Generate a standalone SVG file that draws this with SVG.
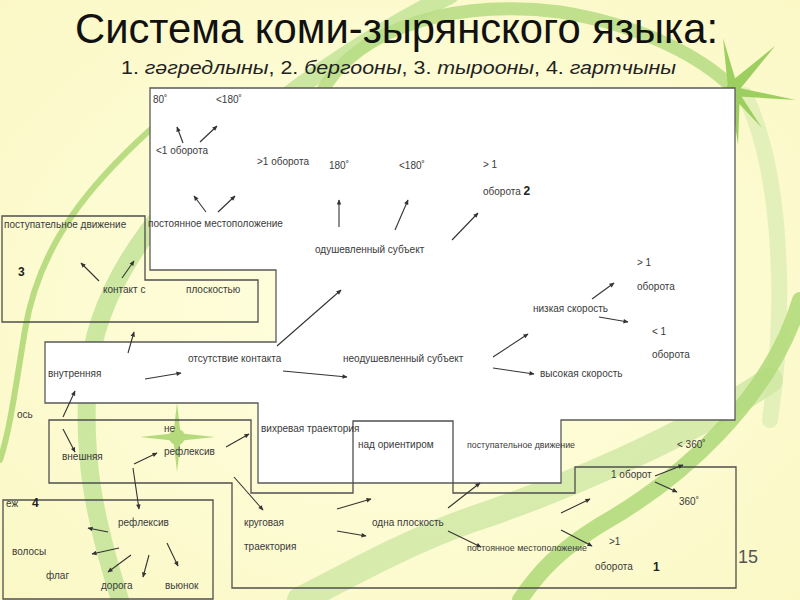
<svg xmlns="http://www.w3.org/2000/svg" width="800" height="600" viewBox="0 0 800 600">
<defs>
<style>
.t{font-family:"Liberation Sans",Arial,sans-serif;font-size:10px;fill:#3a3a3a}
.s{font-family:"Liberation Sans",Arial,sans-serif;font-size:8.5px;fill:#3a3a3a}
.b{font-family:"Liberation Sans",Arial,sans-serif;font-size:12px;font-weight:bold;fill:#222}
.reg{fill:none;stroke:#4f4f4f;stroke-width:1.3}
.c line{stroke:#333;stroke-width:1.1;marker-end:url(#ah)}
.sw{fill:none;stroke-linecap:round}
.ray{fill:#9ccf60}
</style>
<radialGradient id="bg" cx="0.5" cy="0.5" r="0.7">
<stop offset="0" stop-color="#FFFFE0"/>
<stop offset="1" stop-color="#FBF8C6"/>
</radialGradient>
<marker id="ah" viewBox="0 0 10 10" refX="9" refY="5" markerWidth="6" markerHeight="5" markerUnits="userSpaceOnUse" orient="auto">
<path d="M0,0.5 L10,5 L0,9.5 z" fill="#333"/>
</marker>
</defs>

<g id="background">
<rect x="0" y="0" width="800" height="600" fill="url(#bg)"/>
<path class="sw" d="M450,-5 C340,50 100,200 88,380 C82,460 95,520 120,600" stroke="#c3e398" stroke-width="18" opacity="0.85"/>
<path class="sw" d="M150,130 C95,180 40,240 25,330 C15,390 10,430 0,460" stroke="#a9d46e" stroke-width="6" opacity="0.8"/>
<path class="sw" d="M320,95 C360,20 470,0 560,12 C640,25 700,55 735,90" stroke="#b9dd86" stroke-width="13" opacity="0.9"/>
<path class="sw" d="M745,95 C785,180 785,320 770,420" stroke="#d3eaae" stroke-width="16" opacity="0.6"/>
<path class="sw" d="M770,380 C680,440 560,490 470,520 C400,545 340,580 300,600" stroke="#cde7a4" stroke-width="26" opacity="0.8"/>
<path class="sw" d="M800,300 C770,400 680,480 600,525 C560,550 540,570 520,600" stroke="#b2da7c" stroke-width="16" opacity="0.9"/>
<g id="star-top">
<polygon class="ray" points="728,88 723,38 738,88"/>
<polygon class="ray" points="728,84 775,46 736,94"/>
<polygon class="ray" points="730,86 796,100 730,96"/>
<polygon class="ray" points="728,92 762,128 736,88"/>
<polygon class="ray" points="730,90 738,145 740,90"/>
<circle cx="733" cy="90" r="7" fill="#9ccf60"/>
</g>
<g id="star-mid" opacity="0.75">
<polygon class="ray" points="173,437 177,403 181,437"/>
<polygon class="ray" points="173,437 177,472 181,437"/>
<polygon class="ray" points="177,433 140,437 177,441"/>
<polygon class="ray" points="177,433 215,437 177,441"/>
<polygon class="ray" points="174,434 152,412 180,440"/>
<polygon class="ray" points="180,434 202,412 174,440"/>
<polygon class="ray" points="174,440 152,462 180,434"/>
<polygon class="ray" points="180,440 202,462 174,434"/>
<circle cx="177" cy="437" r="8" fill="#9ccf60"/>
</g>
</g>

<g id="title">
<text x="75" y="43" textLength="643" lengthAdjust="spacingAndGlyphs" font-family="'Liberation Sans Narrow','Liberation Sans',Arial,sans-serif" font-size="42" fill="#111">Система коми-зырянского языка:</text>
<text x="121" y="74" textLength="555" lengthAdjust="spacingAndGlyphs" font-family="'Liberation Sans','DejaVu Sans',sans-serif" font-size="18" fill="#222">1. <tspan font-style="italic">гәгредлыны</tspan>, 2. <tspan font-style="italic">бергооны</tspan>, 3. <tspan font-style="italic">тырооны</tspan>, 4. <tspan font-style="italic">гартчыны</tspan></text>
</g>

<g id="regions">
<polygon id="region-2" points="150,88 735,88 735,420 561,420 561,483 258,483 258,403 45,403 45,342 276,342 276,270 150,270" fill="#ffffff" stroke="#5a5a5a" stroke-width="1.3"/>
<polygon id="region-3" class="reg" points="2,216 145,216 145,280 258,280 258,322 2,322"/>
<polygon id="region-1" class="reg" points="49,420 251,420 251,493 353,493 353,421 453,421 453,493 575,493 575,467 736,467 736,588 232,588 232,483 49,483"/>
<polygon id="region-4" class="reg" points="3,500 213,500 213,599 3,599"/>
</g>

<g id="connectors" class="c">
<line x1="183" y1="143" x2="177" y2="127"/>
<line x1="200" y1="142" x2="217" y2="126"/>
<line x1="206" y1="212" x2="194" y2="196"/>
<line x1="218" y1="212" x2="235" y2="196"/>
<line x1="339" y1="227" x2="339" y2="200"/>
<line x1="395" y1="230" x2="408" y2="200"/>
<line x1="452" y1="240" x2="478" y2="213"/>
<line x1="99" y1="281" x2="81" y2="263"/>
<line x1="122" y1="278" x2="134" y2="261"/>
<line x1="128" y1="353" x2="134" y2="332"/>
<line x1="277" y1="346" x2="341" y2="290"/>
<line x1="145" y1="379" x2="181" y2="373"/>
<line x1="283" y1="371" x2="347" y2="377"/>
<line x1="493" y1="357" x2="528" y2="334"/>
<line x1="493" y1="368" x2="534" y2="374"/>
<line x1="592" y1="299" x2="614" y2="283"/>
<line x1="599" y1="317" x2="628" y2="322"/>
<line x1="63" y1="417" x2="75" y2="391"/>
<line x1="63" y1="429" x2="75" y2="452"/>
<line x1="134" y1="464" x2="157" y2="453"/>
<line x1="226" y1="447" x2="249" y2="434"/>
<line x1="234" y1="477" x2="263" y2="510"/>
<line x1="133" y1="468" x2="139" y2="509"/>
<line x1="337" y1="509" x2="371" y2="499"/>
<line x1="337" y1="531" x2="366" y2="536"/>
<line x1="448" y1="508" x2="480" y2="483"/>
<line x1="448" y1="531" x2="481" y2="547"/>
<line x1="561" y1="513" x2="590" y2="499"/>
<line x1="561" y1="530" x2="592" y2="546"/>
<line x1="655" y1="476" x2="683" y2="465"/>
<line x1="655" y1="482" x2="677" y2="492"/>
<line x1="108" y1="532" x2="88" y2="528"/>
<line x1="119" y1="548" x2="92" y2="554"/>
<line x1="131" y1="555" x2="108" y2="572"/>
<line x1="149" y1="555" x2="143" y2="577"/>
<line x1="167" y1="543" x2="178" y2="566"/>
</g>

<g id="nodes">
<g id="n-80"><text class="t" x="153" y="103">80˚</text></g>
<g id="n-lt180a"><text class="t" x="216" y="103">&lt;180˚</text></g>
<g id="n-lt1-oborota"><text class="t" x="156" y="154">&lt;1 оборота</text></g>
<g id="n-gt1-oborota"><text class="t" x="257" y="165">&gt;1 оборота</text></g>
<g id="n-180"><text class="t" x="329" y="169">180˚</text></g>
<g id="n-lt180b"><text class="t" x="399" y="169">&lt;180˚</text></g>
<g id="n-gt1-oborota-2"><text class="t" x="483" y="168">&gt; 1</text><text class="t" x="483" y="195">оборота <tspan class="b" font-size="12">2</tspan></text></g>
<g id="n-postoyannoe-1"><text class="t" x="148" y="227">постоянное местоположение</text></g>
<g id="n-odushevl"><text class="t" x="315" y="253">одушевленный субъект</text></g>
<g id="n-postupat-1"><text class="t" x="4" y="228">поступательное движение</text></g>
<g id="n-3"><text class="b" x="18" y="276">3</text></g>
<g id="n-kontakt"><text class="t" x="103" y="293">контакт с</text><text class="t" x="186" y="293">плоскостью</text></g>
<g id="n-gt1-b"><text class="t" x="637" y="266">&gt; 1</text><text class="t" x="637" y="290">оборота</text></g>
<g id="n-nizkaya"><text class="t" x="533" y="312">низкая скорость</text></g>
<g id="n-lt1-b"><text class="t" x="652" y="335">&lt; 1</text><text class="t" x="652" y="358">оборота</text></g>
<g id="n-otsutstvie"><text class="t" x="188" y="362">отсутствие контакта</text></g>
<g id="n-neodushevl"><text class="t" x="343" y="362">неодушевленный субъект</text></g>
<g id="n-vnutrennyaya"><text class="t" x="48" y="377">внутренняя</text></g>
<g id="n-vysokaya"><text class="t" x="540" y="377">высокая скорость</text></g>
<g id="n-os"><text class="t" x="17" y="418">ось</text></g>
<g id="n-ne-refleksiv"><text class="t" x="164" y="432">не</text><text class="t" x="164" y="455">рефлексив</text></g>
<g id="n-vihrevaya"><text class="t" x="261" y="432">вихревая траектория</text></g>
<g id="n-nad"><text class="t" x="358" y="448">над ориентиром</text></g>
<g id="n-postupat-2"><text class="s" x="467" y="448" textLength="108" lengthAdjust="spacingAndGlyphs">поступательное движение</text></g>
<g id="n-lt360"><text class="t" x="677" y="448">&lt; 360˚</text></g>
<g id="n-vneshnyaya"><text class="t" x="62" y="460">внешняя</text></g>
<g id="n-1oborot"><text class="t" x="611" y="478">1 оборот</text></g>
<g id="n-360"><text class="t" x="679" y="505">360˚</text></g>
<g id="n-ezh-4"><text class="t" x="6" y="507">еж</text><text class="b" x="32" y="507">4</text></g>
<g id="n-krugovaya"><text class="t" x="244" y="526">круговая</text><text class="t" x="244" y="550">траектория</text></g>
<g id="n-odna"><text class="t" x="372" y="526">одна плоскость</text></g>
<g id="n-refleksiv"><text class="t" x="118" y="526">рефлексив</text></g>
<g id="n-gt1-c"><text class="t" x="609" y="545">&gt;1</text></g>
<g id="n-postoyannoe-2"><text class="s" x="467" y="551" textLength="120" lengthAdjust="spacingAndGlyphs">постоянное местоположение</text></g>
<g id="n-volosy"><text class="t" x="12" y="555">волосы</text></g>
<g id="n-oborota-1"><text class="t" x="595" y="570">оборота</text><text class="b" x="653" y="571">1</text></g>
<g id="n-flag"><text class="t" x="46" y="579">флаг</text></g>
<g id="n-doroga"><text class="t" x="101" y="589">дорога</text></g>
<g id="n-vyunok"><text class="t" x="165" y="589">вьюнок</text></g>
</g>
<text x="738" y="563" font-family="'Liberation Sans Narrow','Liberation Sans',Arial,sans-serif" font-size="18" fill="#555">15</text>
</svg>
